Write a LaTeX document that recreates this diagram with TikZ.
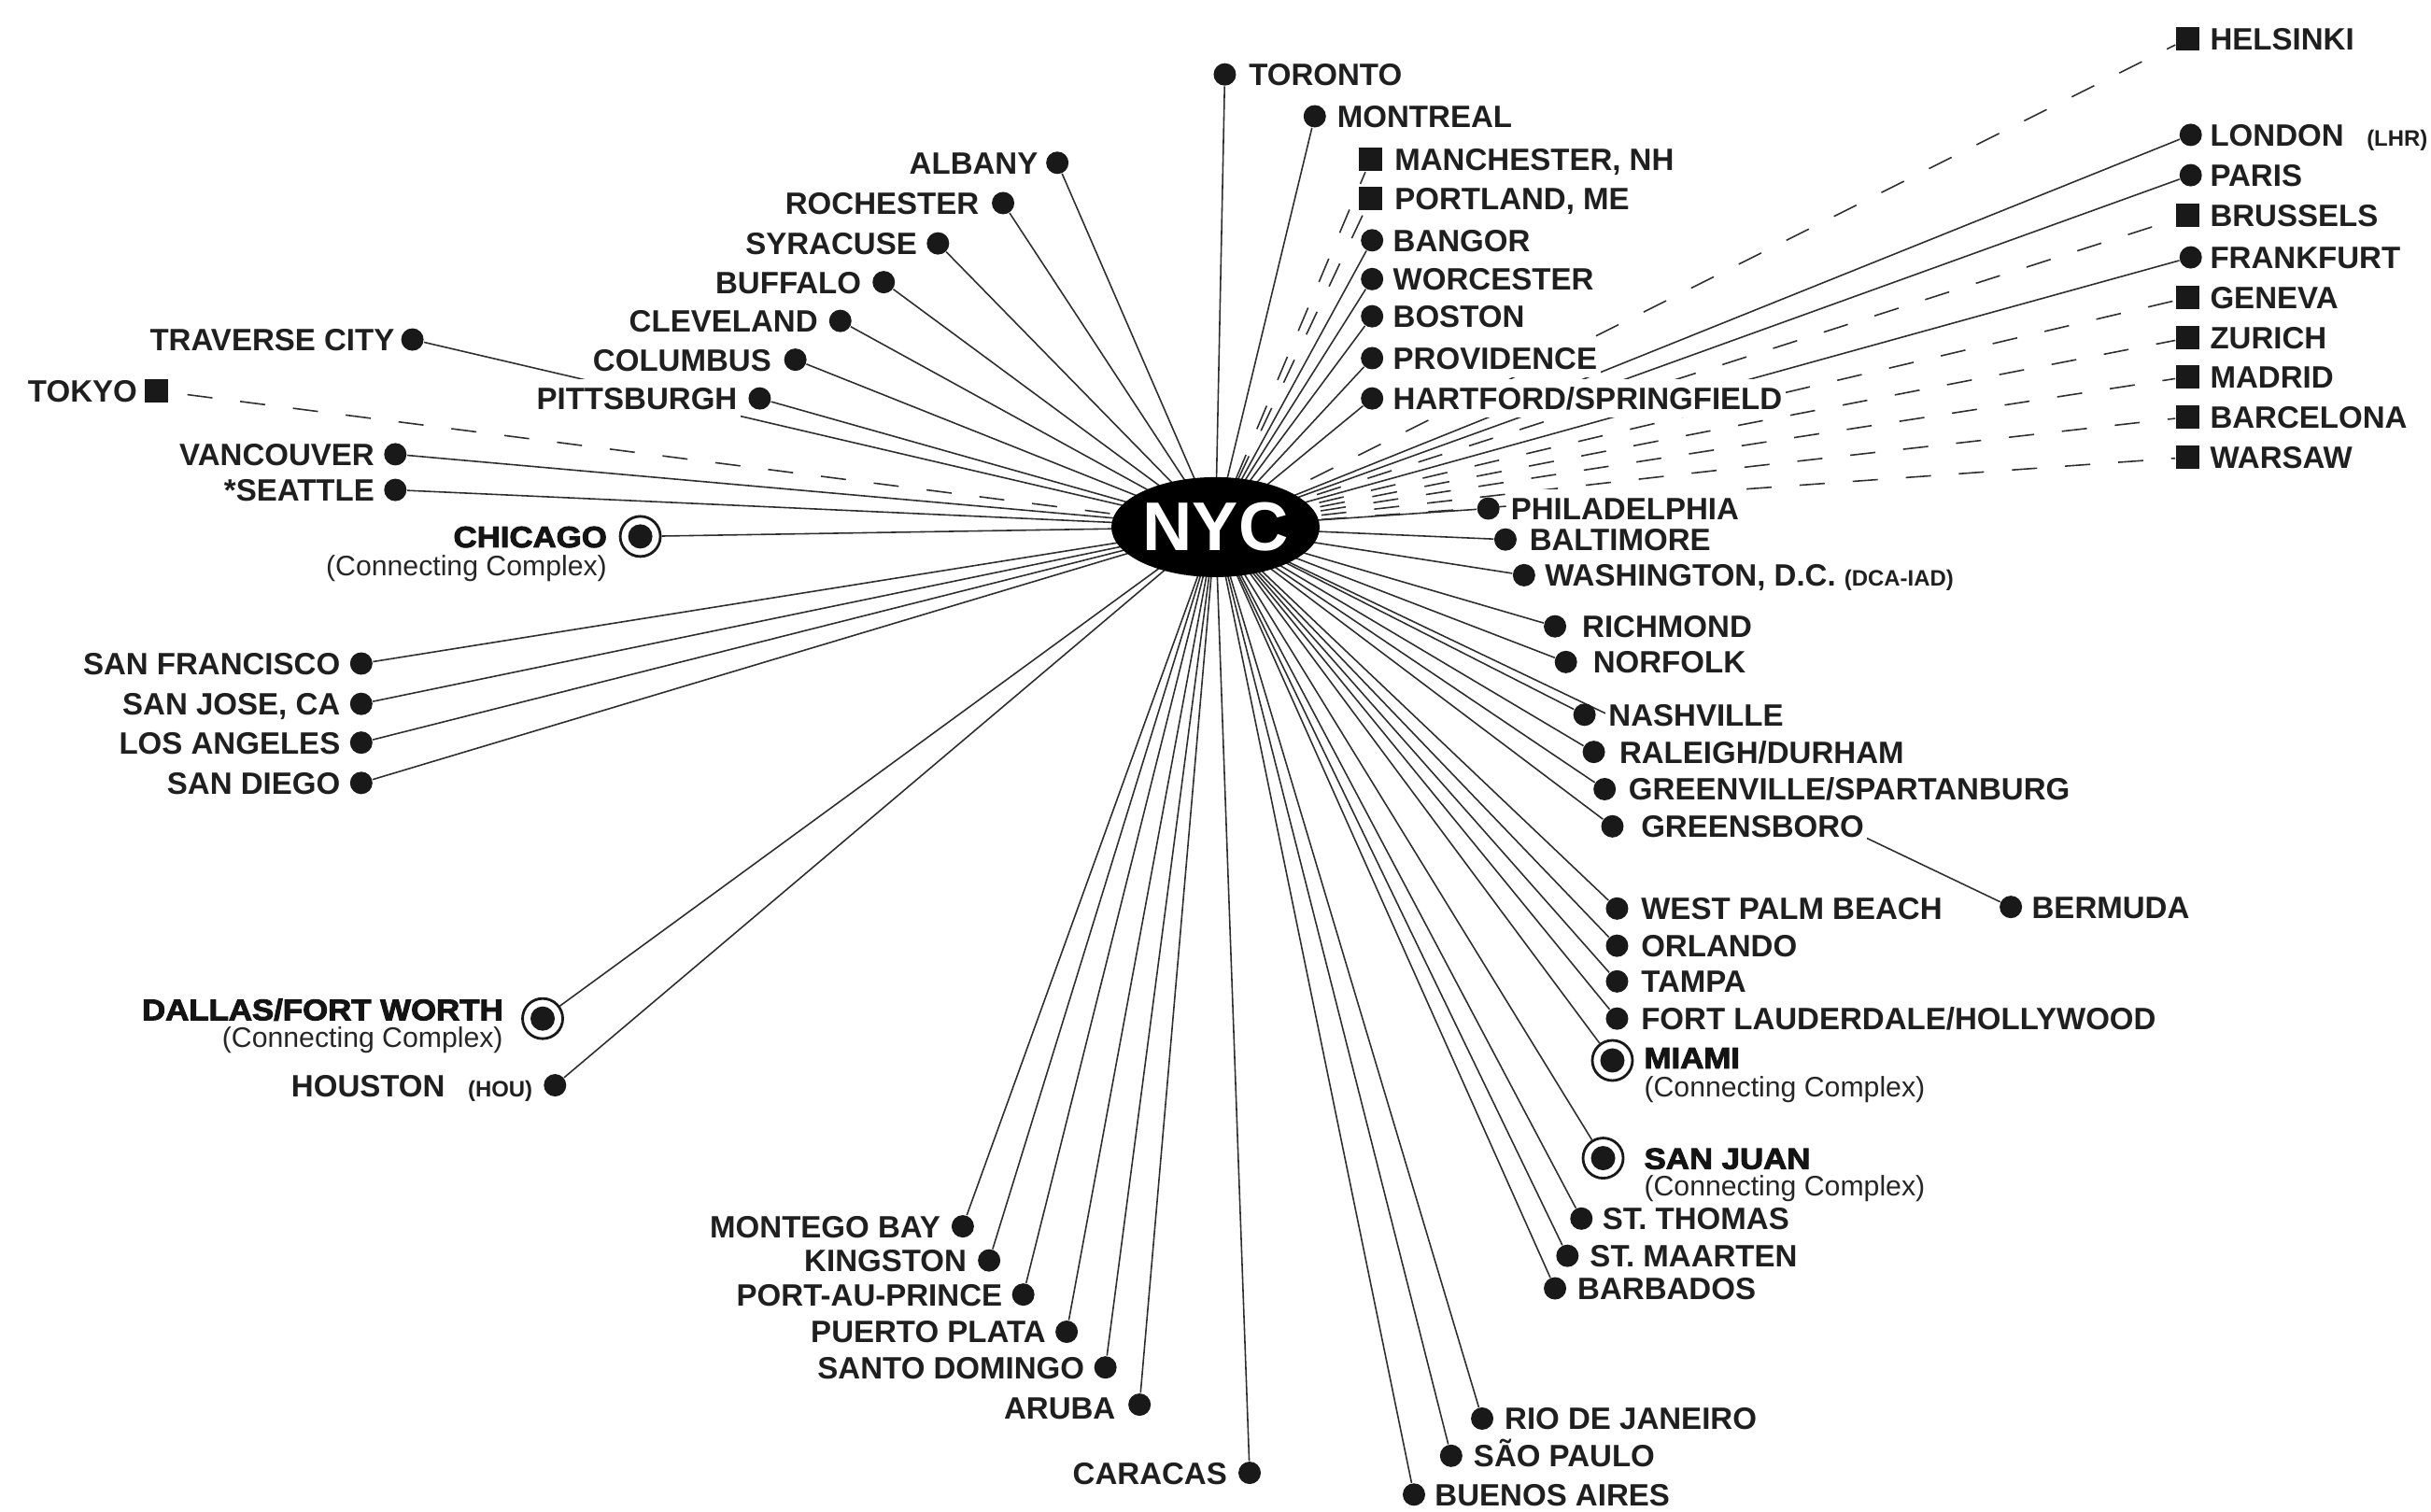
\documentclass[tikz,border=0pt]{standalone}
\usepackage{fontspec}
\setmainfont{Liberation Sans}
\newfontfamily\hubfont{Liberation Sans}[BoldFeatures={FakeBold=3,FakeStretch=1.1}]
\usetikzlibrary{shapes.geometric,backgrounds}
\begin{document}
\begin{tikzpicture}[x=0.016601cm,y=-0.016601cm,
  dot/.style={circle,fill=black!90,inner sep=0pt,minimum size=0.24cm},
  sq/.style={rectangle,fill=black!90,inner sep=0pt,minimum size=0.25cm},
  hub/.style={circle,draw=black!90,line width=0.8pt,fill=white,inner sep=0pt,minimum size=0.43cm,
    path picture={\fill[black!90] (path picture bounding box.center) circle (0.13cm);}},
  lbl/.style={fill=white,inner xsep=1pt,inner ysep=2.4pt,text height=6.8pt,text depth=0pt,
    font=\fontsize{9.4}{10}\selectfont\bfseries,text=black!88},
  hubl/.style={fill=white,inner xsep=1pt,inner ysep=0.6pt,text height=6.6pt,text depth=0pt,
    font=\hubfont\fontsize{9}{10}\selectfont\bfseries,text=black!92},
  subl/.style={inner xsep=1pt,inner ysep=0.6pt,text height=6.2pt,text depth=0pt,
    font=\fontsize{8.6}{10}\selectfont,text=black!85},
  conn/.style={draw=black!82,line width=0.45pt},
  dconn/.style={conn,dash pattern=on 0.27cm off 0.3cm},
]
\newcommand\sm[1]{{\fontsize{6.8}{7}\selectfont\bfseries #1}}
\useasboundingbox (0,0) rectangle (1568,975);

% ---------- hub ----------
\node[ellipse,fill=black,minimum width=2.23cm,minimum height=1.07cm,inner sep=0pt,
  text=white,font=\fontsize{21}{21}\selectfont\bfseries] (nyc) at (784,340) {NYC};

% ---------- destinations ----------
% north-east
\node[dot] (toronto) at (790,48) {};
\node[dot] (montreal) at (848,75) {};
\node[sq] (manchester) at (884,103) {};
\node[sq] (portland) at (884,128) {};
\node[dot] (bangor) at (885,155) {};
\node[dot] (worcester) at (885,180) {};
\node[dot] (boston) at (885,204) {};
\node[dot] (providence) at (885,231) {};
\node[dot] (hartford) at (885,257) {};
% north-west
\node[dot] (albany) at (682,105) {};
\node[dot] (rochester) at (647,131) {};
\node[dot] (syracuse) at (605,157) {};
\node[dot] (buffalo) at (570,182) {};
\node[dot] (cleveland) at (542,207) {};
\node[dot] (columbus) at (513,232) {};
\node[dot] (pittsburgh) at (490,257) {};
\node[dot] (traverse) at (266,219) {};
\node[sq] (tokyo) at (101,252) {};
\node[dot] (vancouver) at (255,293) {};
\node[dot] (seattle) at (255,316) {};
\node[hub] (chicago) at (413,346) {};
% west
\node[dot] (sanfrancisco) at (233,428) {};
\node[dot] (sanjose) at (233,454) {};
\node[dot] (losangeles) at (233,479) {};
\node[dot] (sandiego) at (233,505) {};
\node[hub] (dallas) at (350,657) {};
\node[dot] (houston) at (358,700) {};
% south-west
\node[dot] (montego) at (621,791) {};
\node[dot] (kingston) at (638,813) {};
\node[dot] (portauprince) at (660,835) {};
\node[dot] (puertoplata) at (688,859) {};
\node[dot] (santodomingo) at (713,882) {};
\node[dot] (aruba) at (735,906) {};
\node[dot] (caracas) at (806,950) {};
% south
\node[dot] (buenosaires) at (912,964) {};
\node[dot] (saopaulo) at (936,939) {};
\node[dot] (rio) at (956,915) {};
\node[dot] (barbados) at (1003,831) {};
\node[dot] (stmaarten) at (1011,810) {};
\node[dot] (stthomas) at (1020,786) {};
\node[hub] (sanjuan) at (1034,747) {};
\node[hub] (miami) at (1040,684) {};
\node[dot] (ftlauderdale) at (1043,657) {};
\node[dot] (tampa) at (1043,633) {};
\node[dot] (orlando) at (1043,610) {};
\node[dot] (westpalm) at (1043,586) {};
\node[dot] (bermuda) at (1297,585) {};
\node[dot] (greensboro) at (1040,533) {};
\node[dot] (greenville) at (1035,509) {};
\node[dot] (raleigh) at (1028,485) {};
\node[dot] (nashville) at (1022,461) {};
\node[dot] (norfolk) at (1010,427) {};
\node[dot] (richmond) at (1003,404) {};
\node[dot] (washington) at (983,371) {};
\node[dot] (baltimore) at (971,348) {};
\node[dot] (philadelphia) at (960,328) {};
% Europe
\node[sq] (helsinki) at (1411,25) {};
\node[dot] (london) at (1413,87) {};
\node[dot] (paris) at (1413,113) {};
\node[sq] (brussels) at (1411,139) {};
\node[dot] (frankfurt) at (1413,166) {};
\node[sq] (geneva) at (1411,192) {};
\node[sq] (zurich) at (1411,218) {};
\node[sq] (madrid) at (1411,243) {};
\node[sq] (barcelona) at (1411,269) {};
\node[sq] (warsaw) at (1411,295) {};

% ---------- connectors ----------
\begin{scope}[on background layer]
\foreach \c in {toronto,montreal,bangor,worcester,boston,providence,hartford,
  albany,rochester,syracuse,buffalo,cleveland,columbus,pittsburgh,traverse,
  vancouver,seattle,chicago,sanfrancisco,sanjose,losangeles,sandiego,dallas,houston,
  montego,kingston,portauprince,puertoplata,santodomingo,aruba,caracas,
  buenosaires,saopaulo,rio,barbados,stmaarten,stthomas,sanjuan,miami,
  ftlauderdale,tampa,orlando,westpalm,bermuda,greensboro,greenville,raleigh,
  nashville,norfolk,richmond,washington,baltimore,philadelphia,london,paris,frankfurt}
  \draw[conn] (nyc.center) -- (\c);
\foreach \c in {tokyo,manchester,portland,helsinki,brussels,geneva,zurich,madrid,barcelona,warsaw}
  \draw[dconn] (nyc.center) -- (\c);
\end{scope}

% ---------- labels ----------
\node[lbl,anchor=west] (toronto-l) at (803,48) {TORONTO};
\node[lbl,anchor=west] (montreal-l) at (860,75) {MONTREAL};
\node[lbl,anchor=west] (manchester-l) at (897,103) {MANCHESTER, NH};
\node[lbl,anchor=west] (portland-l) at (897,128) {PORTLAND, ME};
\node[lbl,anchor=west] (bangor-l) at (896,155) {BANGOR};
\node[lbl,anchor=west] (worcester-l) at (896,180) {WORCESTER};
\node[lbl,anchor=west] (boston-l) at (896,204) {BOSTON};
\node[lbl,anchor=west] (providence-l) at (896,231) {PROVIDENCE};
\node[lbl,anchor=west] (hartford-l) at (896,257) {HARTFORD/SPRINGFIELD};

\node[lbl,anchor=east] (albany-l) at (672,105) {ALBANY};
\node[lbl,anchor=east] (rochester-l) at (634,131) {ROCHESTER};
\node[lbl,anchor=east] (syracuse-l) at (594,157) {SYRACUSE};
\node[lbl,anchor=east] (buffalo-l) at (558,182) {BUFFALO};
\node[lbl,anchor=east] (cleveland-l) at (530,207) {CLEVELAND};
\node[lbl,anchor=east] (columbus-l) at (500,232) {COLUMBUS};
\node[lbl,anchor=east] (pittsburgh-l) at (478,257) {PITTSBURGH};
\node[lbl,anchor=east] (traverse-l) at (257,219) {TRAVERSE CITY};
\node[lbl,anchor=east] (tokyo-l) at (91,252) {TOKYO};
\node[lbl,anchor=east] (vancouver-l) at (244,293) {VANCOUVER};
\node[lbl,anchor=east] (seattle-l) at (244,316) {*SEATTLE};
\node[hubl,anchor=east] (chicago-l) at (394,346) {CHICAGO};
\node[subl,anchor=east] (chicago-s) at (394,365) {(Connecting Complex)};

\node[lbl,anchor=east] (sanfrancisco-l) at (222,428) {SAN FRANCISCO};
\node[lbl,anchor=east] (sanjose-l) at (222,454) {SAN JOSE, CA};
\node[lbl,anchor=east] (losangeles-l) at (222,479) {LOS ANGELES};
\node[lbl,anchor=east] (sandiego-l) at (222,505) {SAN DIEGO};
\node[hubl,anchor=east] (dallas-l) at (327,651) {DALLAS/FORT WORTH};
\node[subl,anchor=east] (dallas-s) at (327,669) {(Connecting Complex)};
\node[lbl,anchor=east] (houston-l) at (346,700) {HOUSTON\hspace{7pt}\sm{(HOU)}};

\node[lbl,anchor=east] (montego-l) at (609,791) {MONTEGO BAY};
\node[lbl,anchor=east] (kingston-l) at (626,813) {KINGSTON};
\node[lbl,anchor=east] (portauprince-l) at (649,835) {PORT-AU-PRINCE};
\node[lbl,anchor=east] (puertoplata-l) at (677,859) {PUERTO PLATA};
\node[lbl,anchor=east] (santodomingo-l) at (702,882) {SANTO DOMINGO};
\node[lbl,anchor=east] (aruba-l) at (722,908) {ARUBA};
\node[lbl,anchor=east] (caracas-l) at (794,950) {CARACAS};

\node[lbl,anchor=west] (buenosaires-l) at (923,964) {BUENOS AIRES};
\node[lbl,anchor=west] (saopaulo-l) at (948,939) {SÃO PAULO};
\node[lbl,anchor=west] (rio-l) at (968,915) {RIO DE JANEIRO};
\node[lbl,anchor=west] (barbados-l) at (1015,831) {BARBADOS};
\node[lbl,anchor=west] (stmaarten-l) at (1023,810) {ST. MAARTEN};
\node[lbl,anchor=west] (stthomas-l) at (1031,786) {ST. THOMAS};
\node[hubl,anchor=west] (sanjuan-l) at (1058,747) {SAN JUAN};
\node[subl,anchor=west] (sanjuan-s) at (1058,765) {(Connecting Complex)};
\node[hubl,anchor=west] (miami-l) at (1058,682) {MIAMI};
\node[subl,anchor=west] (miami-s) at (1058,701) {(Connecting Complex)};
\node[lbl,anchor=west] (ftlauderdale-l) at (1056,657) {FORT LAUDERDALE/HOLLYWOOD};
\node[lbl,anchor=west] (tampa-l) at (1056,633) {TAMPA};
\node[lbl,anchor=west] (orlando-l) at (1056,610) {ORLANDO};
\node[lbl,anchor=west] (westpalm-l) at (1056,586) {WEST PALM BEACH};
\node[lbl,anchor=west] (bermuda-l) at (1308,585) {BERMUDA};
\node[lbl,anchor=west] (greensboro-l) at (1056,533) {GREENSBORO};
\node[lbl,anchor=west] (greenville-l) at (1048,509) {GREENVILLE/SPARTANBURG};
\node[lbl,anchor=west] (raleigh-l) at (1042,485) {RALEIGH/DURHAM};
\node[lbl,anchor=west] (nashville-l) at (1035,461) {NASHVILLE};
\node[lbl,anchor=west] (norfolk-l) at (1025,427) {NORFOLK};
\node[lbl,anchor=west] (richmond-l) at (1018,404) {RICHMOND};
\node[lbl,anchor=west] (washington-l) at (994,371) {WASHINGTON, D.C. \sm{(DCA-IAD)}};
\node[lbl,anchor=west] (baltimore-l) at (984,348) {BALTIMORE};
\node[lbl,anchor=west] (philadelphia-l) at (972,328) {PHILADELPHIA};

\node[lbl,anchor=west] (helsinki-l) at (1423,25) {HELSINKI};
\node[lbl,anchor=west] (london-l) at (1423,87) {LONDON\hspace{7pt}\sm{(LHR)}};
\node[lbl,anchor=west] (paris-l) at (1423,113) {PARIS};
\node[lbl,anchor=west] (brussels-l) at (1423,139) {BRUSSELS};
\node[lbl,anchor=west] (frankfurt-l) at (1423,166) {FRANKFURT};
\node[lbl,anchor=west] (geneva-l) at (1423,192) {GENEVA};
\node[lbl,anchor=west] (zurich-l) at (1423,218) {ZURICH};
\node[lbl,anchor=west] (madrid-l) at (1423,243) {MADRID};
\node[lbl,anchor=west] (barcelona-l) at (1423,269) {BARCELONA};
\node[lbl,anchor=west] (warsaw-l) at (1423,295) {WARSAW};
\end{tikzpicture}
\end{document}
